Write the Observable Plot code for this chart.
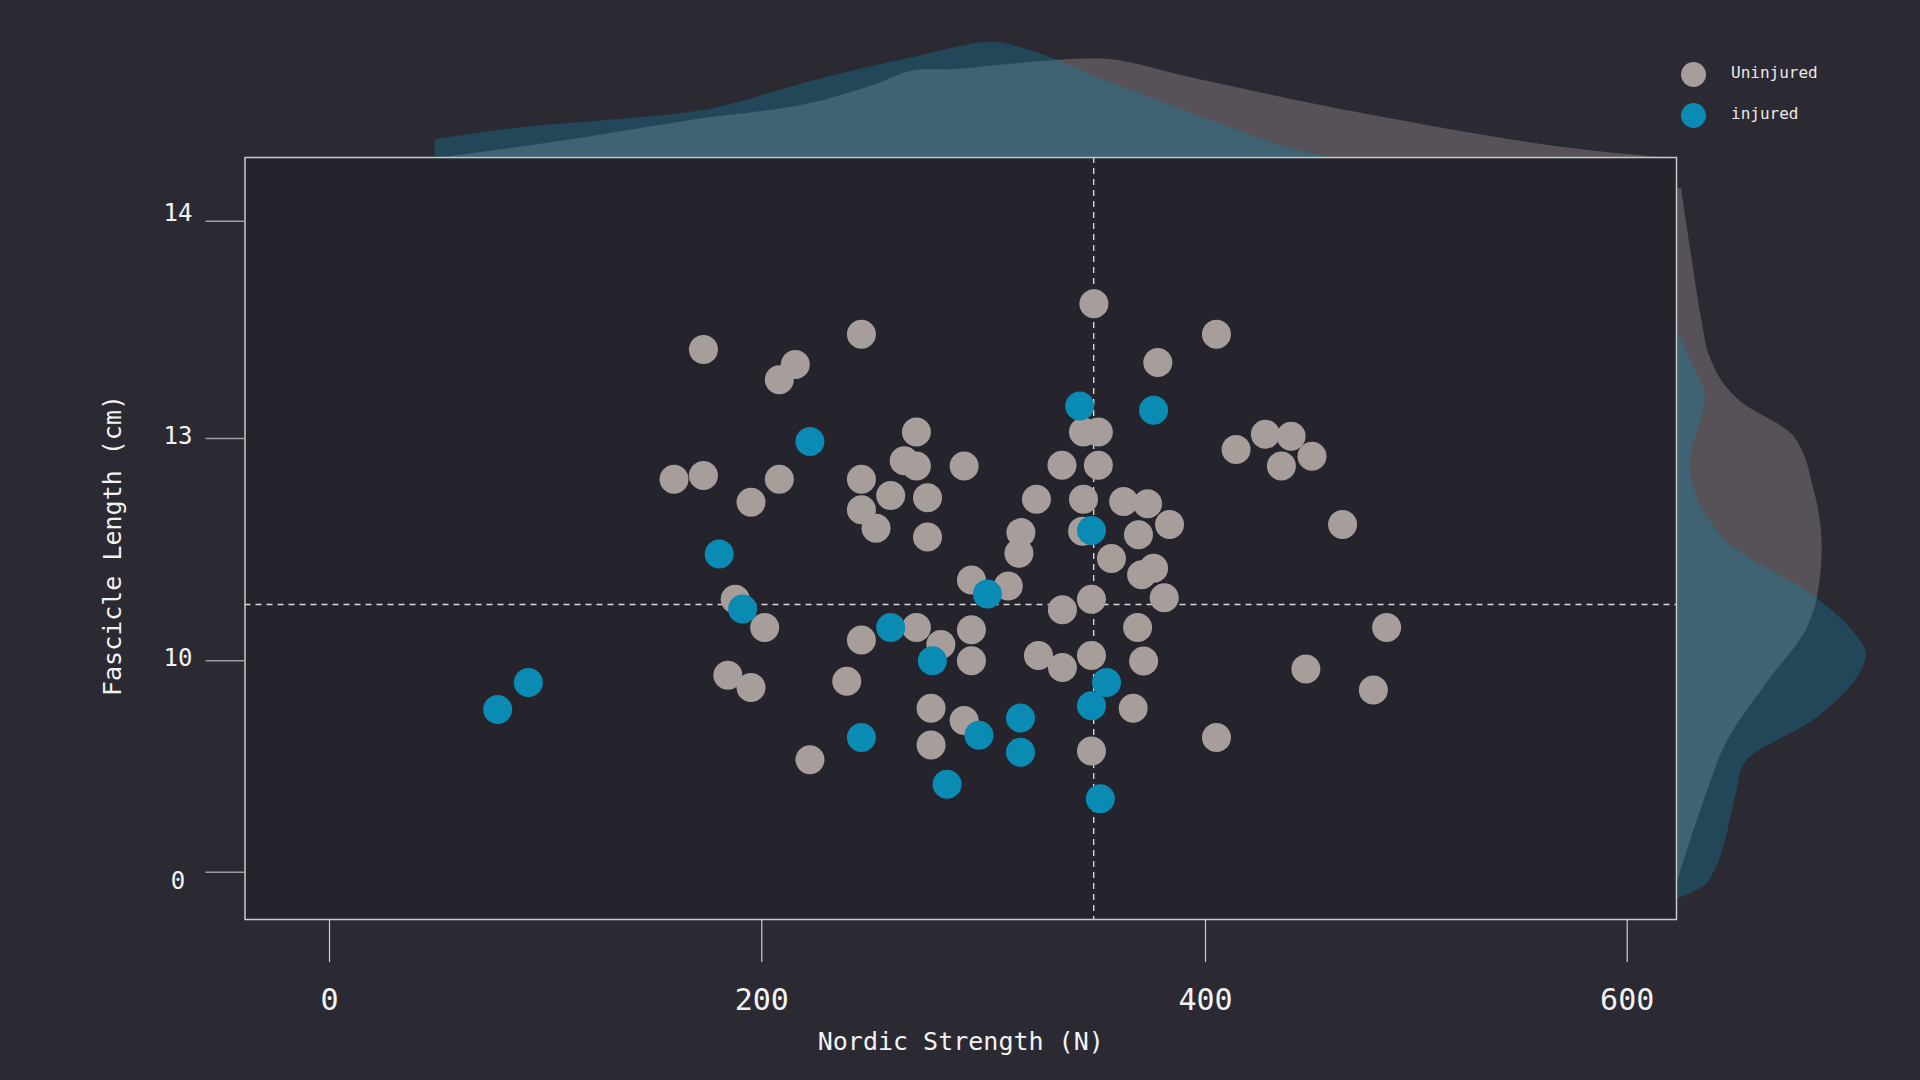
<!DOCTYPE html>
<html>
<head>
<meta charset="utf-8">
<script src="https://cdn.jsdelivr.net/npm/d3@7"></script>
<script src="https://cdn.jsdelivr.net/npm/@observablehq/plot@0.6"></script>
<style>
  html, body { margin: 0; padding: 0; background: #2b2a33; }
  #wrap { position: relative; width: 1920px; height: 1080px; overflow: hidden; background: #2b2a33; }
  #wrap svg { position: absolute; overflow: visible; }
  .legend-item { position: absolute; display: flex; align-items: center; height: 25px;
    font-family: "DejaVu Sans Mono", monospace; font-size: 16px; color: #ebe9e6; }
  .legend-item .sw { display: inline-block; width: 25px; height: 25px; border-radius: 50%; margin-right: 25px; }
  .legend-item .lbl { position: relative; top: -2px; }
</style>
</head>
<body>
<div id="wrap"></div>
<script>
// ---------------- data ----------------
const seriesNames = ["Uninjured", "injured"];

const uninjuredStrength = [159.4,173.0,173.0,195.0,207.9,215.1,207.9,244.9,244.9,244.9,
  258.1,251.5,269.7,264.2,269.7,274.7,274.7,291.2,187.7,201.3,
  184.3,195.0,221.7,238.3,244.9,269.7,280.7,294.5,294.5,294.5,
  311.1,276.3,276.3,291.2,323.8,316.8,315.9,335.3,345.0,351.7,
  351.7,345.0,344.6,349.7,357.6,363.1,373.9,369.8,383.8,371.2,
  376.6,335.5,348.6,381.4,324.7,335.5,348.6,369.4,372.1,367.4,
  348.6,378.5,405.2,414.5,428.4,440.6,436.0,450.5,465.0,447.6,
  479.6,485.9,405.2];
const uninjuredLength = [12.45,13.41,12.50,12.14,13.27,13.34,12.45,13.48,12.45,12.04,
  12.23,11.79,13.03,12.70,12.63,12.20,11.67,12.63,10.83,10.45,
  9.32,8.74,5.32,9.03,10.28,10.45,10.22,11.09,10.42,10.00,
  11.01,7.75,6.02,7.18,12.18,11.73,11.45,12.64,13.03,13.03,
  12.64,12.18,11.75,13.62,11.38,12.15,12.12,11.70,11.84,11.16,
  11.25,10.69,10.83,10.85,10.07,9.68,10.07,10.45,9.99,7.75,
  5.73,13.35,13.48,12.85,13.02,13.01,12.63,12.76,11.84,9.61,
  8.62,10.45,6.37];

const injuredStrength = [77.8,92.0,180.3,191.1,221.7,258.1,276.9,244.9,283.5,297.9,
  301.7,316.6,316.6,343.3,376.6,348.6,348.6,355.4,352.6];
const injuredLength = [7.70,8.97,11.44,10.70,12.96,10.45,10.00,6.37,4.16,6.48,
  10.90,7.29,5.67,13.15,13.13,11.76,7.87,8.97,3.47];

// reference (dashed) lines
const refStrength = 349.6;
const refLength = 10.76;

// marginal density of Nordic strength (top), relative density
const topUninjuredX = [52.7,109.6,167.1,227.8,250.2,272.6,283.8,306.2,332.4,351.1,392.3,450.7,509.8,568.8,616.0];
const topUninjuredD = [0,0.17,0.37,0.57,0.72,0.877,0.877,0.92,0.97,0.987,0.803,0.537,0.303,0.103,0];
const topInjuredX = [48.9,94.2,128.8,174.8,224.0,268.9,304.4,321.1,351.1,384.7,411.4,435.1,458.7];
const topInjuredD = [0.177,0.31,0.37,0.477,0.77,1.003,1.153,1.07,0.803,0.52,0.303,0.12,0];

// marginal density of fascicle length (right), relative density
const rightUninjuredY = [14.15,13.82,13.51,13.39,13.17,13.01,12.32,11.52,10.84,10.44,8.96,6.02,3.78,-0.45];
const rightUninjuredD = [0.04,0.147,0.257,0.313,0.63,1.163,1.363,1.447,1.397,1.297,0.897,0.48,0.297,0];
const rightInjuredY = [13.50,13.36,13.19,12.66,11.65,10.84,10.44,10.07,9.19,7.31,5.08,3.54,-0.45,-1.28];
const rightInjuredD = [0,0.13,0.28,0.13,0.463,1.397,1.73,1.89,1.797,1.397,0.663,0.58,0.313,0];

// axis ticks
const xTicks = [0, 200, 400, 600];
const yTicks = [0, 10, 13, 14];
const xLabel = "Nordic Strength (N)";
const yLabel = "Fascicle Length (cm)";

// ---------------- layout & style ----------------
const W = 1920, H = 1080;
const FRAME = {left: 244.5, right: 1676, top: 157, bottom: 919};
const X_RANGE = [329, 761.3, 1205, 1626.7];   // pixel positions of x ticks (piecewise axis)
const Y_RANGE = [871.7, 660.3, 438, 220.7];   // pixel positions of y ticks (piecewise axis)
const Y_LABEL_SHIFT = [9, -2, -2, -8];        // the reference's y tick labels sit slightly off their ticks
const GRAY = "#a79e9b", BLUE = "#0a8bb3";
const PANEL = "#25242c";
const FONT = "DejaVu Sans Mono, monospace";
const TEXT = "#f3f3f3";

// tables built from the arrays
const zip = (xs, ys, kx, ky) => xs.map((v, i) => ({[kx]: v, [ky]: ys[i]}));
const uninjured = zip(uninjuredStrength, uninjuredLength, "strength", "length");
const injured = zip(injuredStrength, injuredLength, "strength", "length");
const topU = zip(topUninjuredX, topUninjuredD, "strength", "density");
const topI = zip(topInjuredX, topInjuredD, "strength", "density");
const rightU = zip(rightUninjuredY, rightUninjuredD, "length", "density");
const rightI = zip(rightInjuredY, rightInjuredD, "length", "density");

const xScale = {type: "linear", domain: xTicks, range: X_RANGE};
const yScale = {type: "linear", domain: yTicks, range: Y_RANGE};

const wrap = document.getElementById("wrap");

// ---------------- main scatter ----------------
const mainPlot = Plot.plot({
  width: W, height: H,
  marginTop: FRAME.top, marginBottom: H - FRAME.bottom,
  marginLeft: FRAME.left, marginRight: W - FRAME.right,
  style: {background: "none", fontFamily: FONT, color: TEXT},
  x: xScale,
  y: yScale,
  marks: [
    Plot.frame({fill: PANEL}),
    Plot.ruleX([refStrength], {stroke: "#d6d6d6", strokeWidth: 1.4, strokeDasharray: "6,5"}),
    Plot.ruleY([refLength], {stroke: "#d6d6d6", strokeWidth: 1.4, strokeDasharray: "6,5"}),
    Plot.dot(uninjured, {x: "strength", y: "length", r: 14.5, fill: GRAY}),
    Plot.dot(injured, {x: "strength", y: "length", r: 14.5, fill: BLUE}),
    Plot.frame({stroke: "#c9c9c9", strokeWidth: 1.5}),
    Plot.axisX({ticks: xTicks, tickSize: 43, tickPadding: 26, fontSize: 30,
      stroke: "#cdcdcd", strokeWidth: 1.2, fill: TEXT, label: null}),
    Plot.axisY({ticks: yTicks, tickSize: 39, tickFormat: () => "",
      stroke: "#9d9d9d", strokeWidth: 1.6, label: null}),
    ...yTicks.map((t, i) => Plot.text([t], {
      y: d => d, text: d => String(d), frameAnchor: "left", textAnchor: "middle",
      dx: -67, dy: Y_LABEL_SHIFT[i], fontSize: 24, fill: TEXT})),
    Plot.text([xLabel], {text: d => d, frameAnchor: "bottom", lineAnchor: "bottom",
      dy: 130, fontSize: 25, fill: TEXT}),
    Plot.text([yLabel], {text: d => d, frameAnchor: "left", textAnchor: "middle", lineAnchor: "top",
      rotate: -90, dx: -142, dy: 7, fontSize: 25, fill: TEXT})
  ]
});
mainPlot.style.left = "0px"; mainPlot.style.top = "0px";
wrap.appendChild(mainPlot);

// ---------------- top marginal density ----------------
const topPlot = Plot.plot({
  width: W, height: FRAME.top, margin: 0,
  style: {background: "none"},
  x: {...xScale, axis: null},
  y: {domain: [0, 1.57], axis: null},
  marks: [
    Plot.areaY(topU, {x: "strength", y: "density", fill: GRAY, fillOpacity: 0.35, curve: "monotone-x"}),
    Plot.areaY(topI, {x: "strength", y: "density", fill: BLUE, fillOpacity: 0.3, curve: "monotone-x"})
  ]
});
topPlot.style.left = "0px"; topPlot.style.top = "0px";
wrap.appendChild(topPlot);

// ---------------- right marginal density ----------------
const RW = W - 1677;
const rightPlot = Plot.plot({
  width: RW, height: H, margin: 0,
  style: {background: "none"},
  x: {domain: [0, RW / 100], axis: null},
  y: {...yScale, axis: null},
  marks: [
    Plot.areaX(rightU, {y: "length", x: "density", fill: GRAY, fillOpacity: 0.35, curve: "monotone-y"}),
    Plot.areaX(rightI, {y: "length", x: "density", fill: BLUE, fillOpacity: 0.3, curve: "monotone-y"})
  ]
});
rightPlot.style.left = "1677px"; rightPlot.style.top = "0px";
wrap.appendChild(rightPlot);

// ---------------- legend ----------------
const legendColors = [GRAY, BLUE];
seriesNames.forEach((name, i) => {
  const item = document.createElement("div");
  item.className = "legend-item";
  item.style.left = "1681px";
  item.style.top = (61.5 + i * 41) + "px";
  item.innerHTML = `<span class="sw" style="background:${legendColors[i]}"></span><span class="lbl">${name}</span>`;
  wrap.appendChild(item);
});
</script>
</body>
</html>
